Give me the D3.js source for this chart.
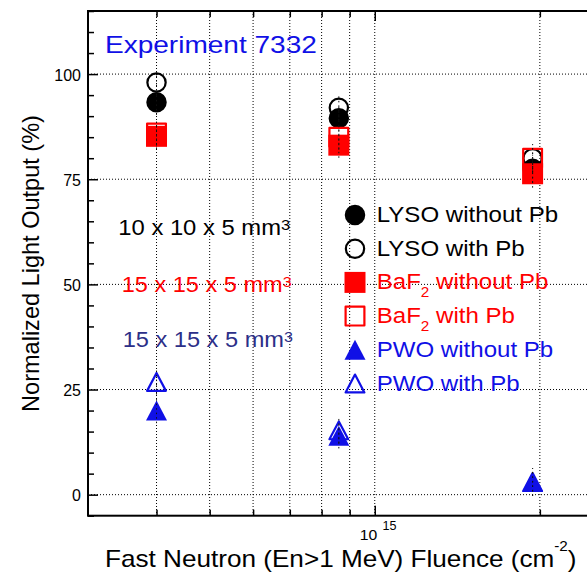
<!DOCTYPE html>
<html><head><meta charset="utf-8">
<script src="https://cdn.jsdelivr.net/npm/d3@7"></script>
<style>html,body{margin:0;padding:0;background:#fff;} svg{display:block;}</style>
</head><body>
<svg id="chart" width="587" height="573"></svg>
<script>
// ---------------- data ----------------
const fluence        = [4.0e14, 8.6e14, 1.94e15];   // cm^-2
const lysoWithoutPb  = [93.3, 89.5, 77.5];
const lysoWithPb     = [98.0, 92.0, 80.0];
const baf2WithoutPb  = [85.2, 83.1, 76.3];
const baf2WithPb     = [86.0, 85.0, 80.0];
const pwoWithoutPb   = [20.0, 14.0, 3.0];
const pwoWithPb      = [26.8, 15.3, 3.0];
const errorBars      = [3.0, 3.0, 3.3];
const yTicks         = [0, 25, 50, 75, 100];
const yMinorTicks    = d3.range(-5, 116, 5).filter(v => v % 25 !== 0);
const xMajorTicks    = [1e15];
const xMinorTicks    = [4e14, 5e14, 6e14, 7e14, 8e14, 9e14, 2e15];
const legendLabels   = [
  [{t:'LYSO without Pb'}],
  [{t:'LYSO with Pb'}],
  [{t:'BaF'},{t:'2', sub:true},{t:' without Pb'}],
  [{t:'BaF'},{t:'2', sub:true},{t:' with Pb'}],
  [{t:'PWO without Pb'}],
  [{t:'PWO with Pb'}]
];
const sizeLabels = ['10 x 10 x 5 mm', '15 x 15 x 5 mm', '15 x 15 x 5 mm'];

// ---------------- setup ----------------
const FONT = "'Liberation Sans', Arial, Helvetica, sans-serif";
const RED = '#ff0000', BLUE = '#1010e6', NAVY = '#2c2f88', BLACK = '#000';
const svg = d3.select('#chart');

const x = d3.scaleLog().domain([3e14, 2.5e15]).range([88, 593]);
const y = d3.scaleLinear().domain([-5, 115]).range([515.7, 11]);
const [X0, X1] = x.range(), [Y0, Y1] = y.range();

// grid
const grid = svg.append('g').attr('stroke', BLACK).attr('stroke-width', 1).attr('stroke-dasharray', '1,2');
grid.selectAll('line.gx').data(xMinorTicks.concat(xMajorTicks)).join('line').attr('class','gx')
  .attr('x1', d => x(d)).attr('x2', d => x(d)).attr('y1', Y1).attr('y2', Y0);
grid.selectAll('line.gy').data(yTicks).join('line').attr('class','gy')
  .attr('y1', d => y(d)).attr('y2', d => y(d)).attr('x1', X0).attr('x2', X1);

// axes ticks
function styleAxis(g){ g.select('.domain').remove(); g.selectAll('line').attr('stroke', BLACK).attr('stroke-width', 1.5); }
svg.append('g').attr('transform', `translate(${X0},0)`)
  .call(d3.axisLeft(y).tickValues(yTicks).tickSize(-10).tickPadding(7).tickFormat(d3.format('d')))
  .call(styleAxis)
  .call(g => g.selectAll('text').attr('font-family', FONT).attr('font-size', 16).attr('fill', BLACK).attr('dy', '0.38em'));
svg.append('g').attr('transform', `translate(${X0},0)`)
  .call(d3.axisLeft(y).tickValues(yMinorTicks).tickSize(-6).tickFormat(''))
  .call(styleAxis);
[['bottom', Y0], ['top', Y1]].forEach(([side, yy]) => {
  const mk = side === 'bottom' ? d3.axisBottom : d3.axisTop;
  svg.append('g').attr('transform', `translate(0,${yy})`)
    .call(mk(x).tickValues(xMajorTicks).tickSize(-10).tickFormat('')).call(styleAxis);
  svg.append('g').attr('transform', `translate(0,${yy})`)
    .call(mk(x).tickValues(xMinorTicks).tickSize(-6).tickFormat('')).call(styleAxis);
});

// frame
svg.append('rect').attr('x', X0).attr('y', Y1).attr('width', X1 - X0).attr('height', Y0 - Y1)
  .attr('fill', 'none').attr('stroke', BLACK).attr('stroke-width', 2);

// ---------------- markers ----------------
const sym = {
  circle:   {draw(c, s){ c.moveTo(s/2, 0); c.arc(0, 0, s/2, 0, 2*Math.PI); c.closePath(); }},
  square:   {draw(c, s){ c.rect(-s/2, -s/2, s, s); }},
  triangle: {draw(c, s){ const h = s*0.95; c.moveTo(0, -h/2); c.lineTo(s/2, h/2); c.lineTo(-s/2, h/2); c.closePath(); }}
};
const markerSize = {circle: 20.5, square: 21, triangle: 21};
function markerPath(shape, filled){
  return d3.symbol().type(sym[shape]).size(filled ? markerSize[shape] : markerSize[shape] - 2.2)();
}
const series = [
  {values: lysoWithoutPb, shape: 'circle',   filled: true,  color: BLACK},
  {values: lysoWithPb,    shape: 'circle',   filled: false, color: BLACK},
  {values: baf2WithoutPb, shape: 'square',   filled: true,  color: RED},
  {values: baf2WithPb,    shape: 'square',   filled: false, color: RED},
  {values: pwoWithoutPb,  shape: 'triangle', filled: true,  color: BLUE},
  {values: pwoWithPb,     shape: 'triangle', filled: false, color: BLUE}
];
function styleMarker(sel, s){
  sel.attr('d', markerPath(s.shape, s.filled))
    .attr('fill', s.filled ? s.color : 'none')
    .attr('stroke', s.filled ? 'none' : s.color)
    .attr('stroke-width', s.filled ? 0 : 2.2)
    .attr('stroke-linejoin', 'round');
}
const marks = svg.append('g');
series.forEach(s => {
  const pts = fluence.map((f, i) => ({f, v: s.values[i], e: errorBars[i]})).filter(d => d.v != null);
  marks.append('g').selectAll('path').data(pts).join('path')
    .call(sel => styleMarker(sel, s))
    .attr('transform', d => `translate(${x(d.f)},${y(d.v)})`);
});
// error bars
series.forEach(s => {
  const pts = fluence.map((f, i) => ({f, v: s.values[i], e: errorBars[i]})).filter(d => d.v != null);
  marks.append('g').selectAll('line').data(pts).join('line')
    .attr('x1', d => x(d.f)).attr('x2', d => x(d.f))
    .attr('y1', d => y(d.v - d.e)).attr('y2', d => y(d.v + d.e))
    .attr('stroke', '#111').attr('stroke-width', 1).attr('stroke-dasharray', '1.5,3');
});

// ---------------- text helper ----------------
function addText(parent, {x: tx, y: ty, size, color, parts, target, scale, rotate, anchor}){
  const g = parent.append('g');
  const t = g.append('text').attr('font-family', FONT).attr('font-size', size).attr('fill', color)
    .attr('text-anchor', anchor || 'start');
  let cur = 0;
  parts.forEach(p => {
    const want = p.dy || 0;
    const ts = t.append('tspan').text(p.t).attr('font-size', p.size || size).attr('dy', want - cur);
    if (p.dx) ts.attr('dx', p.dx);
    cur = want;
  });
  const bb = t.node().getBBox();
  const sx = target ? target / bb.width : (scale || 1);
  const offX = anchor === 'middle' ? 0 : -bb.x * sx;
  g.attr('transform', `translate(${tx},${ty})` + (rotate ? ` rotate(${rotate})` : '') + ` translate(${offX},0) scale(${sx},1)`);
  return g;
}
const texts = svg.append('g');

// x tick label 10^15
addText(texts, {x: x(1e15) - 15, y: 540, size: 15, color: BLACK,
  parts: [{t: '10'}, {t: '15', size: 12, dy: -10, dx: 5}], scale: 1.05});

// axis titles
addText(texts, {x: 105, y: 566.7, size: 24, color: BLACK, target: 471.7,
  parts: [{t: 'Fast Neutron (En>1 MeV) Fluence (cm'}, {t: '-2', size: 14, dy: -16}, {t: ')', dy: 0}]});
addText(texts, {x: 39, y: 263.5, size: 23, color: BLACK, target: 297, rotate: -90, anchor: 'middle',
  parts: [{t: 'Normalized Light Output (%)'}]});

// annotations
addText(texts, {x: 105, y: 53, size: 23, color: BLUE, target: 212, parts: [{t: 'Experiment 7332'}]});
const sizeColors = [BLACK, RED, NAVY];
const sizePos = [[118.3, 235, 21.5, 172], [121.7, 291.7, 22, 170], [122.7, 346.7, 22, 170.3]];
sizeLabels.forEach((lab, i) => {
  const [px, py, fs, w] = sizePos[i];
  addText(texts, {x: px, y: py, size: fs, color: sizeColors[i], target: w,
    parts: [{t: lab}, {t: '3', size: 15, dy: -5}]});
});

// ---------------- legend ----------------
const legend = svg.append('g');
const LX = 355, LY = 215, LDY = 33.7, TX = 376.7;
series.forEach((s, i) => {
  legend.append('path').call(sel => styleMarker(sel, s))
    .attr('transform', `translate(${LX},${LY + i*LDY})`);
  const parts = legendLabels[i].map(p => p.sub ? {t: p.t, size: 14, dy: 8} : {t: p.t, dy: 0});
  addText(legend, {x: TX, y: LY + i*LDY + 7, size: 22, color: s.color,
    parts, scale: 1.094});
});
</script>
</body></html>
